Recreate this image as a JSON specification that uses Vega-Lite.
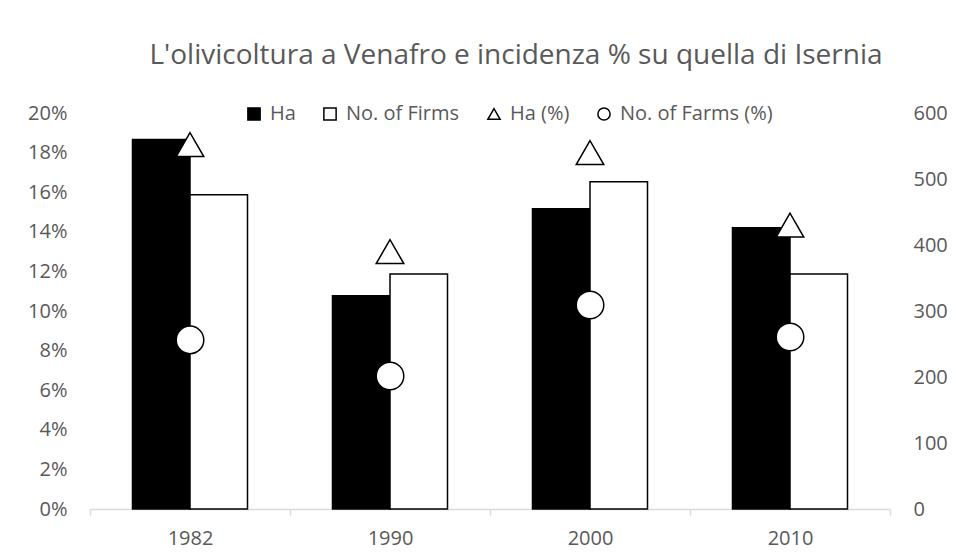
{
  "$schema": "https://vega.github.io/schema/vega-lite/v6.json",
  "autosize": {"type": "none"},
  "width": 800,
  "height": 396,
  "padding": {"left": 90, "top": 113, "right": 66, "bottom": 45},
  "background": "white",
  "config": {
    "font": "Open Sans",
    "view": {"stroke": null},
    "axis": {"labelColor": "#595959", "labelFontSize": 20, "title": null, "grid": false}
  },
  "title": {
    "text": "L'olivicoltura a Venafro e incidenza % su quella di Isernia",
    "fontSize": 28,
    "fontWeight": "normal",
    "color": "#595959",
    "anchor": "middle",
    "frame": "group",
    "dx": 26,
    "offset": 33
  },
  "datasets": {
    "bars": [
      {"year": "1982", "series": "Ha", "value": 560},
      {"year": "1982", "series": "No. of Firms", "value": 476},
      {"year": "1990", "series": "Ha", "value": 323},
      {"year": "1990", "series": "No. of Firms", "value": 356},
      {"year": "2000", "series": "Ha", "value": 455},
      {"year": "2000", "series": "No. of Firms", "value": 496},
      {"year": "2010", "series": "Ha", "value": 426},
      {"year": "2010", "series": "No. of Firms", "value": 356}
    ],
    "pts": [
      {"year": "1982", "series": "Ha (%)", "pct": 0.184},
      {"year": "1982", "series": "No. of Farms (%)", "pct": 0.0854},
      {"year": "1990", "series": "Ha (%)", "pct": 0.130},
      {"year": "1990", "series": "No. of Farms (%)", "pct": 0.0672},
      {"year": "2000", "series": "Ha (%)", "pct": 0.180},
      {"year": "2000", "series": "No. of Farms (%)", "pct": 0.103},
      {"year": "2010", "series": "Ha (%)", "pct": 0.1434},
      {"year": "2010", "series": "No. of Farms (%)", "pct": 0.0869}
    ]
  },
  "layer": [
    {
      "data": {"name": "bars"},
      "mark": {"type": "bar", "stroke": "black", "strokeWidth": 1.5},
      "encoding": {
        "x": {
          "field": "year", "type": "nominal",
          "scale": {"paddingInner": 0, "paddingOuter": 0},
          "axis": {"labelAngle": 0, "domainColor": "#d9d9d9", "domainWidth": 1.5, "tickColor": "#d9d9d9", "tickWidth": 1.5, "tickSize": 6, "tickBand": "extent", "labelPadding": 13}
        },
        "xOffset": {"field": "series", "type": "nominal", "scale": {"domain": ["Ha", "No. of Firms"], "paddingInner": 0, "paddingOuter": 0.739}},
        "y": {
          "field": "value", "type": "quantitative",
          "scale": {"domain": [0, 600]},
          "axis": {"orient": "right", "values": [0, 100, 200, 300, 400, 500, 600], "domain": false, "ticks": false, "labelPadding": 23}
        },
        "fill": {
          "field": "series", "type": "nominal",
          "scale": {"domain": ["Ha", "No. of Firms", "Ha (%)", "No. of Farms (%)"], "range": ["black", "white", "white", "white"]},
          "legend": {
            "title": null, "orient": "none", "direction": "horizontal",
            "legendX": 154, "legendY": -9,
            "labelFontSize": 20, "labelColor": "#595959",
            "symbolSize": 150, "symbolStrokeColor": "black", "symbolStrokeWidth": 1.5,
            "columnPadding": 24, "labelOffset": 6
          }
        }
      }
    },
    {
      "data": {"name": "pts"},
      "mark": {"type": "point", "filled": true, "stroke": "black", "strokeWidth": 1.5, "size": 760, "opacity": 1},
      "encoding": {
        "x": {"field": "year", "type": "nominal"},
        "y": {
          "field": "pct", "type": "quantitative",
          "scale": {"domain": [0, 0.2]},
          "axis": {"orient": "left", "format": ".0%", "values": [0, 0.02, 0.04, 0.06, 0.08, 0.1, 0.12, 0.14, 0.16, 0.18, 0.2], "domain": false, "ticks": false, "labelPadding": 23}
        },
        "fill": {"field": "series", "type": "nominal"},
        "shape": {
          "field": "series", "type": "nominal",
          "scale": {"domain": ["Ha", "No. of Firms", "Ha (%)", "No. of Farms (%)"], "range": ["square", "square", "triangle-up", "circle"]}
        }
      }
    }
  ],
  "resolve": {"scale": {"y": "independent"}}
}
